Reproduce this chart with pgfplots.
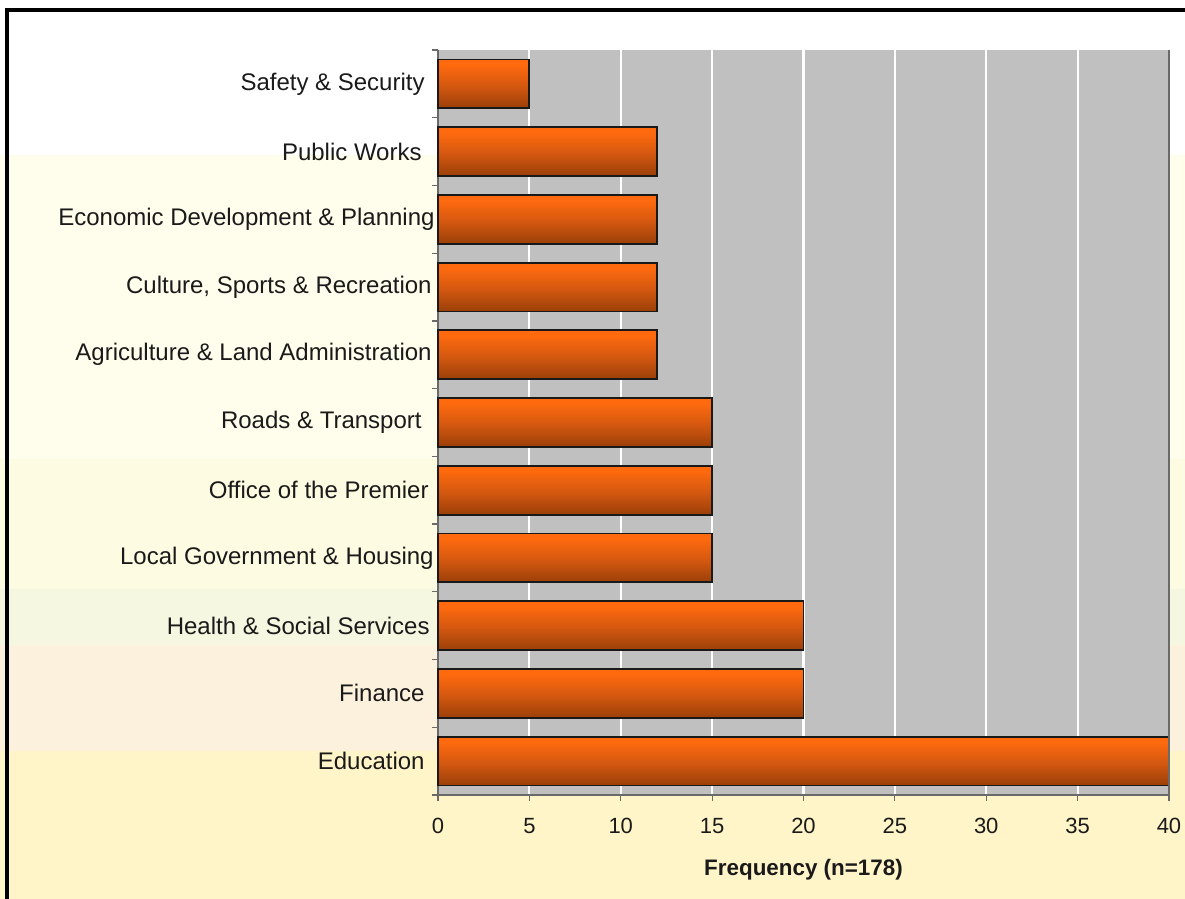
\documentclass[border=0pt]{standalone}
\usepackage{pgfplots}
\usepackage{pgfplotstable}
\pgfplotsset{compat=1.18}
\usepackage{fontspec}
\setmainfont{Liberation Sans}

\definecolor{plotgrey}{HTML}{C0C0C0}
\definecolor{axisgrey}{HTML}{6A6A6A}
\definecolor{txt}{HTML}{1A1A1A}
\definecolor{barTop}{HTML}{FF6A0E}
\definecolor{barMid}{HTML}{D45810}
\definecolor{barLow}{HTML}{933C08}
\definecolor{barBot}{HTML}{6A2A04}
\definecolor{bandA}{HTML}{FFFEEC}
\definecolor{bandB}{HTML}{FDFBE2}
\definecolor{bandC}{HTML}{F5F7E0}
\definecolor{bandD}{HTML}{FCF1DC}
\definecolor{bandE}{HTML}{FFF5C8}

% bar gradient, bottom (0bp) to top (100bp)
\pgfdeclareverticalshading{barshade}{100bp}{%
  color(0bp)=(barBot); color(22bp)=(barLow); color(48bp)=(barMid);
  color(70bp)=(barTop); color(100bp)=(barTop)}

% position 0 = Education (bottom) ... 10 = Safety & Security (top)
\pgfplotstableread{
pos value
0   40
1   20
2   20
3   15
4   15
5   15
6   12
7   12
8   12
9   12
10  5
}\freqtable

\begin{document}
\begin{tikzpicture}
\useasboundingbox (0,0) rectangle (592.5pt,449.5pt);

%-----------------------------
% page background bands
%-----------------------------
\fill[white] (0,0) rectangle (592.5pt,449.5pt);
\fill[bandA] (0,0) rectangle (592.5pt,372pt);
\fill[bandB] (0,0) rectangle (592.5pt,220pt);
\fill[bandC] (0,0) rectangle (592.5pt,155pt);
\fill[bandD] (0,0) rectangle (592.5pt,127pt);
\fill[bandE] (0,0) rectangle (592.5pt,74pt);
\draw[black, line width=1.6pt] (3.5pt,0) -- (3.5pt,444.5pt) -- (592.5pt,444.5pt);

\begin{axis}[
    at={(219pt,52pt)},
    anchor=south west,
    scale only axis,
    width=365.5pt,
    height=372.5pt,
    xmin=0, xmax=40,
    ymin=-0.5, ymax=10.5,
    axis background/.style={fill=plotgrey},
    axis x line*=bottom,
    axis y line*=left,
    axis line style={axisgrey, line width=0.8pt},
    xtick={0,5,...,40},
    xmajorgrids,
    grid style={white, line width=1.1pt},
    tick align=outside,
    major tick length=3pt,
    minor tick length=3pt,
    x tick style={axisgrey, line width=0.6pt},
    major y tick style={draw=none},
    minor y tick style={axisgrey, line width=0.6pt},
    ytick={0,...,10},
    minor ytick={-0.5,0.5,...,10.5},
    yticklabels={
        Education\kern5pt,
        Finance\kern5pt,
        Health \& Social Services\kern2.5pt,
        Local Government \& Housing\kern0.5pt,
        Office of the Premier\kern3pt,
        Roads \& Transport\kern6.5pt,
        Agriculture \& Land Administration\kern1.5pt,
        {Culture, Sports \& Recreation\kern1.5pt},
        Economic Development \& Planning,
        Public Works\kern6.5pt,
        Safety \& Security\kern5pt
    },
    yticklabel style={font=\fontsize{12}{14}\selectfont, text=txt,
        inner sep=0pt, xshift=1.5pt},
    xticklabel style={font=\fontsize{11}{13}\selectfont, text=txt,
        yshift=-5pt},
    /pgf/number format/assume math mode=true,
    xlabel={\textbf{Frequency (n=178)}},
    xlabel style={font=\fontsize{11.2}{13}\selectfont, text=txt, yshift=-6pt},
    clip=false
]

% one plot per bar so that every bar gets its own gradient
\pgfplotsinvokeforeach{0,...,10}{
\addplot[
    xbar,
    bar width=0.72,
    bar shift=0pt,
    draw=black!90,
    line width=0.9pt,
    shading=barshade,
    y filter/.expression={abs(y-#1)<0.1 ? y : nan}
] table[x=value, y=pos] {\freqtable};
}

\draw[axisgrey, line width=0.8pt] (axis cs:40,-0.5) -- (axis cs:40,10.5);

\end{axis}
\end{tikzpicture}
\end{document}
